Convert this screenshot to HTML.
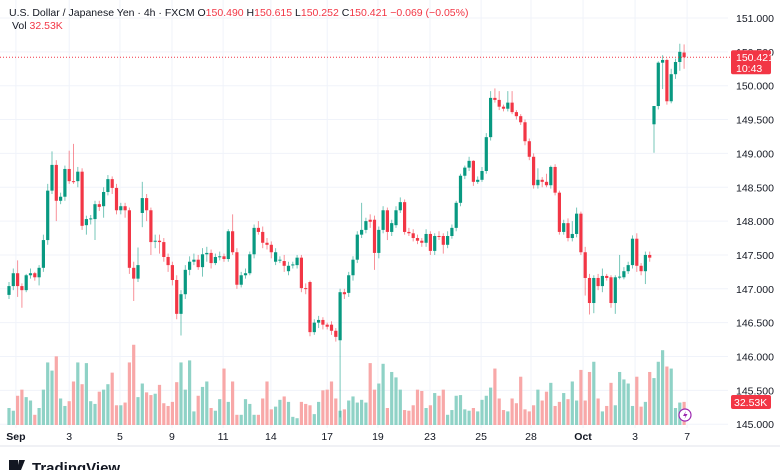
<!DOCTYPE html>
<html><head><meta charset="utf-8"><style>
body{margin:0;background:#fff;width:780px;height:470px;overflow:hidden;font-family:"Liberation Sans",sans-serif}
svg text{font-family:"Liberation Sans",sans-serif}
</style></head><body>
<svg id="chart" width="780" height="470" viewBox="0 0 780 470" xmlns="http://www.w3.org/2000/svg">
<g id="grid"></g>
<g id="vol"></g>
<g id="candles"></g>
<g id="yaxis"></g>
<g id="xaxis"></g>
<line x1="0" y1="446" x2="780" y2="446" stroke="#e0e3eb"/>
<g font-size="10.5">
<text x="9" y="16" fill="#131722">U.S. Dollar / Japanese Yen · 4h · FXCM  O<tspan fill="#f23645">150.490</tspan>  H<tspan fill="#f23645">150.615</tspan>  L<tspan fill="#f23645">150.252</tspan>  C<tspan fill="#f23645">150.421</tspan>  <tspan fill="#f23645">−0.069 (−0.05%)</tspan></text>
<text x="12" y="29" fill="#131722">Vol <tspan fill="#f23645">32.53K</tspan></text>
</g>
<g>
<rect x="9" y="460" width="9" height="10" fill="#131722"/><path d="M19 460h6l-4 10h-4z" fill="#131722"/>
<text x="32" y="473" font-size="15" font-weight="bold" fill="#131722">TradingView</text>
</g>
</svg>
<script>
const opens=[146.91,147.04,147.23,147.04,146.98,147.20,147.23,147.17,147.31,147.72,148.45,148.83,148.30,148.36,148.77,148.59,148.59,148.73,147.94,148.03,148.03,148.25,148.22,148.43,148.62,148.49,148.16,148.22,148.16,147.31,147.15,148.12,148.34,148.16,147.70,147.71,147.69,147.47,147.35,147.13,146.63,146.92,147.28,147.40,147.43,147.32,147.51,147.53,147.38,147.47,147.48,147.44,147.85,147.54,147.06,147.20,147.23,147.51,147.90,147.84,147.68,147.65,147.40,147.42,147.41,147.26,147.35,147.35,147.46,147.01,147.10,146.36,146.50,146.54,146.47,146.47,146.38,146.24,146.95,146.94,147.20,147.43,147.80,147.87,148.02,148.02,147.53,147.87,148.16,147.84,147.94,148.16,148.28,147.84,147.82,147.75,147.71,147.68,147.81,147.56,147.78,147.78,147.65,147.78,147.90,148.27,148.67,148.79,148.89,148.58,148.61,148.74,149.24,149.82,149.79,149.69,149.66,149.75,149.61,149.55,149.46,149.18,148.95,148.53,148.61,148.58,148.53,148.80,148.42,147.84,147.97,147.75,147.81,148.11,147.54,147.16,146.79,147.16,147.04,147.19,147.17,146.79,147.17,147.17,147.26,147.35,147.74,147.34,147.26,147.50,149.43,149.70,150.34,150.38,149.77,150.17,150.35,150.49];
const closes=[147.04,147.23,147.04,146.98,147.20,147.23,147.17,147.31,147.72,148.45,148.83,148.30,148.36,148.77,148.59,148.58,148.73,147.93,148.03,148.04,148.25,148.21,148.43,148.62,148.49,148.16,148.22,148.16,147.31,147.15,147.35,148.34,148.16,147.69,147.71,147.69,147.47,147.35,147.13,146.63,146.92,147.28,147.40,147.43,147.32,147.51,147.53,147.38,147.47,147.48,147.44,147.85,147.54,147.06,147.20,147.23,147.51,147.90,147.84,147.68,147.65,147.54,147.54,147.43,147.34,147.34,147.36,147.46,147.01,147.00,146.36,146.50,146.54,146.47,146.44,146.38,146.29,146.95,146.92,147.20,147.43,147.80,147.87,148.00,147.99,147.53,147.87,148.16,147.84,147.97,148.16,148.28,147.84,147.82,147.75,147.71,147.68,147.81,147.56,147.78,147.77,147.65,147.78,147.90,148.27,148.67,148.79,148.89,148.58,148.61,148.74,149.24,149.82,149.79,149.69,149.66,149.75,149.61,149.55,149.46,149.18,148.95,148.53,148.61,148.58,148.53,148.80,148.42,147.84,147.97,147.75,147.81,148.11,147.54,147.16,146.79,147.16,147.04,147.19,147.16,146.79,147.17,147.18,147.26,147.35,147.74,147.34,147.26,147.50,147.46,149.70,150.34,150.38,149.77,150.17,150.35,150.50,150.42];
const highs=[147.10,147.30,147.42,147.08,147.22,147.30,147.25,147.35,147.80,148.55,149.03,148.90,148.42,148.82,149.04,149.14,148.80,148.78,148.08,148.09,148.30,148.30,148.50,148.68,148.66,148.55,148.27,148.27,148.20,147.40,147.61,148.58,148.40,148.20,147.80,147.80,147.75,147.52,147.40,147.20,146.98,147.35,147.48,147.52,147.50,147.60,147.62,147.58,147.52,147.55,147.52,147.88,148.10,147.60,147.25,147.30,147.55,147.95,148.00,147.92,147.75,147.70,147.60,147.48,147.50,147.40,147.40,147.50,147.50,147.08,147.12,146.55,146.60,146.58,146.50,146.52,146.42,147.00,147.00,147.25,147.48,147.85,148.27,148.05,148.10,148.08,147.92,148.22,148.20,148.02,148.22,148.35,148.32,147.90,147.88,147.80,147.75,147.88,147.85,147.82,147.85,147.82,147.85,147.95,148.30,148.70,148.82,148.95,148.90,148.66,148.80,149.30,149.92,149.96,149.92,149.72,149.92,149.92,149.64,149.58,149.50,149.22,149.00,148.78,148.65,148.70,148.82,148.84,148.45,148.02,148.04,148.00,148.20,148.14,147.62,147.22,147.20,147.22,147.30,147.22,147.20,147.20,147.50,147.32,147.40,147.79,147.82,147.38,147.55,147.55,149.55,150.36,150.45,150.40,150.25,150.40,150.62,150.61];
const lows=[146.85,146.98,146.88,146.72,146.95,147.15,147.12,147.05,147.25,147.65,148.40,148.00,148.25,148.30,148.55,148.55,148.50,147.87,147.80,147.95,147.72,148.15,148.05,148.38,148.40,148.10,148.10,148.05,147.22,146.82,147.10,147.91,148.00,147.50,147.60,147.52,147.40,147.25,147.05,146.55,146.31,146.85,147.20,147.35,147.28,147.18,147.40,147.30,147.35,147.42,147.40,147.40,147.50,147.00,147.02,147.15,147.20,147.45,147.80,147.60,147.58,147.45,147.35,147.38,147.25,147.20,147.30,147.30,146.95,146.92,146.30,146.32,146.42,146.40,146.40,146.32,146.22,145.10,146.85,146.88,147.12,147.38,147.75,147.82,147.90,147.28,147.45,147.82,147.72,147.78,147.90,148.12,147.80,147.78,147.70,147.66,147.62,147.62,147.50,147.50,147.72,147.52,147.60,147.74,147.85,148.22,148.62,148.74,148.52,148.55,148.58,148.70,149.19,149.75,149.64,149.62,149.62,149.58,149.50,149.42,149.12,148.90,148.48,148.48,148.50,148.50,148.48,148.38,147.80,147.80,147.70,147.70,147.76,147.50,146.90,146.62,146.64,146.98,146.95,147.12,146.72,146.63,147.14,147.14,147.22,147.30,147.25,147.20,147.07,147.40,149.01,149.65,149.95,149.72,149.74,150.10,150.22,150.25];
const volumes=[25,21,43,52,41,36,15,25,52,92,80,101,39,28,35,64,92,60,91,35,31,49,52,60,77,29,29,33,92,118,41,61,48,44,46,59,32,28,34,63,92,52,95,20,43,56,64,25,21,38,83,34,64,15,15,38,31,15,15,39,64,23,27,37,42,34,12,10,34,31,29,16,34,51,52,64,39,21,23,36,42,33,37,33,91,52,61,90,25,78,70,52,22,21,29,52,50,25,29,47,43,52,15,22,43,44,23,21,25,20,37,43,55,83,39,22,20,39,32,71,23,20,29,52,36,49,62,28,34,47,38,64,36,81,36,78,93,39,20,28,62,29,78,67,61,28,71,27,34,78,69,93,110,86,83,25,33,34];
const priceTicks=[151,150.5,150,149.5,149,148.5,148,147.5,147,146.5,146,145.5,145];
const dateLabels=["Sep","3","5","9","11","14","17","19","23","25","28","Oct","3","7"];
const dateIdx=[1.6,14,25.8,37.9,49.8,60.9,74,85.8,97.9,109.8,121.4,133.5,145.6,157.7];
const lastPrice=150.421, lastVol=32.53;

const NS="http://www.w3.org/2000/svg";
function yP(p){return 85.7+(150-p)*67.7;}
function xI(i){return 9+i*4.3;}
function yV(v){return 425-v*0.68;}
function mk(tag,attrs,parent){const e=document.createElementNS(NS,tag);for(const k in attrs)e.setAttribute(k,attrs[k]);parent.appendChild(e);return e;}
const G=document.getElementById('grid'),V=document.getElementById('vol'),C=document.getElementById('candles'),YA=document.getElementById('yaxis'),XA=document.getElementById('xaxis');
const UP="#089981",DN="#f23645";
priceTicks.forEach(p=>{
  const l=mk('line',{x1:0,x2:728,y1:yP(p),y2:yP(p),stroke:'#f0f3fa'},G);
  
  
  const t=mk('text',{x:736,y:yP(p)+4,'font-size':'10.5',fill:'#131722'},YA);
  t.textContent=p.toFixed(3);
  
  
});
dateLabels.forEach((d,k)=>{
  const x=xI(dateIdx[k]);
  const l=mk('line',{x1:x,x2:x,y1:0,y2:428,stroke:'#f0f3fa'},G);
  
  
  const t=mk('text',{x:x,y:440,'font-size':'10.5',fill:'#131722','text-anchor':'middle','font-weight':(d==='Sep'||d==='Oct')?'bold':'normal'},XA);
  t.textContent=d;
  
  
});
volumes.forEach((v,i)=>{
  const up=closes[i]>=opens[i];
  const r=mk('rect',{x:xI(i)-1.6,y:yV(v),width:3.2,height:425-yV(v),fill:up?'#8fd2c6':'#f8a8a8'},V);
  
  
});
opens.forEach((o,i)=>{
  const c=closes[i],up=c>=o,col=up?UP:DN,x=xI(i);
  const g=mk('g',{},C);
  
  
  mk('line',{x1:x,x2:x,y1:yP(highs[i]),y2:yP(lows[i]),stroke:col,'stroke-width':1,'stroke-opacity':0.55},g);
  const top=Math.min(yP(o),yP(c)),h=Math.max(1,Math.abs(yP(o)-yP(c)));
  mk('rect',{x:x-1.6,y:top,width:3.2,height:h,fill:col},g);
});
const ly=yP(lastPrice);
const pl=mk('line',{x1:0,x2:730,y1:ly,y2:ly,stroke:DN,'stroke-dasharray':'1 2','stroke-width':1},C);


const tag=mk('g',{},YA);


mk('rect',{x:731,y:ly-7,width:40,height:24,rx:2,fill:DN},tag);
const t1=mk('text',{x:736,y:ly+4,'font-size':'10.5',fill:'#fff'},tag);t1.textContent=lastPrice.toFixed(3);
const t2=mk('text',{x:736,y:ly+15,'font-size':'10.5',fill:'#fff'},tag);t2.textContent="10:43";
const vt=mk('g',{},YA);


mk('rect',{x:731,y:395,width:40,height:14,rx:2,fill:DN},vt);
const t3=mk('text',{x:734,y:406,'font-size':'10.5',fill:'#fff'},vt);t3.textContent=lastVol.toFixed(2)+"K";
const ic=mk('g',{},C);


mk('circle',{cx:685,cy:415,r:6,fill:'#fff',stroke:'#9c27b0','stroke-width':1.2},ic);
mk('path',{d:'M686 411l-3 5h2.5l-1 3 3-5h-2.5z',fill:'#9c27b0'},ic);
</script>
</body></html>
